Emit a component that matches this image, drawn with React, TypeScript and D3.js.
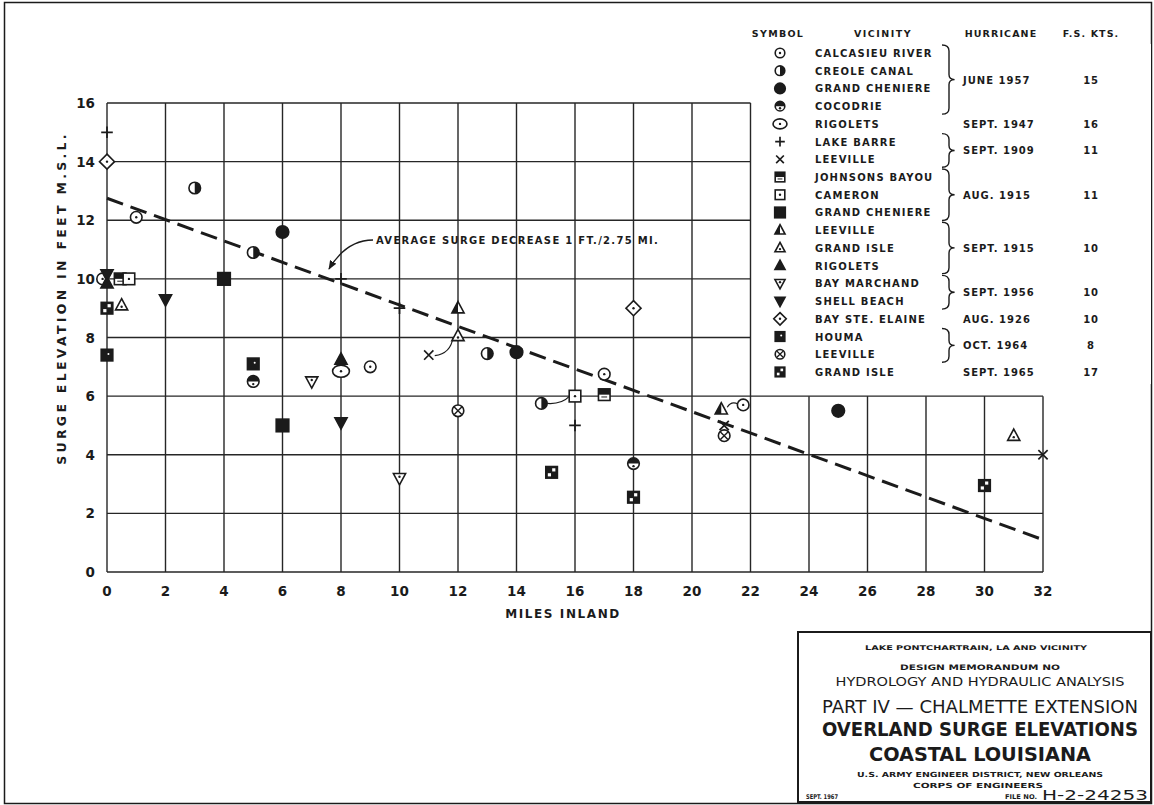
import React from "react";
import * as d3 from "d3";

const W = 1154;
const H = 805;
const FONT = "'DejaVu Sans', 'Liberation Sans', sans-serif";
const CONDENSED = "'DejaVu Sans Condensed', 'Liberation Sans Narrow', 'DejaVu Sans', sans-serif";
const INK = "#1b1b1b";

// axis ticks
const xTicks = d3.range(0, 33, 2);
const yTicks = d3.range(0, 17, 2);

// legend rows
const vicinities = [
  "CALCASIEU RIVER", "CREOLE CANAL", "GRAND CHENIERE", "COCODRIE", "RIGOLETS",
  "LAKE BARRE", "LEEVILLE", "JOHNSONS BAYOU", "CAMERON", "GRAND CHENIERE",
  "LEEVILLE", "GRAND ISLE", "RIGOLETS", "BAY MARCHAND", "SHELL BEACH",
  "BAY STE. ELAINE", "HOUMA", "LEEVILLE", "GRAND ISLE",
];
const symbolKinds = [
  "circleDot", "circleRightHalf", "circleFilled", "circleTopHalf", "ovalDot",
  "plus", "cross", "squareTopHalf", "squareDot", "squareFilled",
  "triangleHalf", "triangleDot", "triangleFilled", "triangleDownDot", "triangleDownFilled",
  "diamondDot", "squareFilledDot", "circleCross", "squareChecker",
];
const hurricanes = ["JUNE 1957", "SEPT. 1947", "SEPT. 1909", "AUG. 1915", "SEPT. 1915", "SEPT. 1956", "AUG. 1926", "OCT. 1964", "SEPT. 1965"];
const forwardSpeedKts = ["15", "16", "11", "11", "10", "10", "10", "8", "17"];
const groupRows = [[0, 3], [4, 4], [5, 6], [7, 9], [10, 12], [13, 14], [15, 15], [16, 17], [18, 18]];

// observed surge points [miles inland, feet msl]
const calcasieuRiver = [[-0.15, 10.0], [1, 12.1], [9, 7.0], [17, 6.75], [21.75, 5.7]];
const creoleCanal = [[3, 13.1], [5, 10.9], [13, 7.45], [14.85, 5.75]];
const grandCheniere57 = [[6, 11.6], [14, 7.5], [25, 5.5]];
const cocodrie = [[5, 6.5], [18, 3.7]];
const rigolets47 = [[8, 6.85]];
const lakeBarre = [[0, 15.0], [8, 10.0], [10, 9.0], [16, 5.0]];
const leeville09 = [[11, 7.4], [21.1, 5.0], [32, 4.0]];
const johnsonsBayou = [[0.45, 10.0], [17, 6.05]];
const cameron = [[0.75, 10.0], [16, 6.0]];
const grandCheniere15 = [[4, 10.0], [6, 5.0]];
const leeville15 = [[12, 9.0], [21, 5.55]];
const grandIsle15 = [[0.5, 9.1], [12, 8.05], [31, 4.65]];
const rigolets15 = [[0, 9.85], [8, 7.25]];
const bayMarchand = [[7, 6.5], [10, 3.2]];
const shellBeach = [[0, 10.15], [2, 9.3], [8, 5.1]];
const baySteElaine = [[0, 14.0], [18, 9.0]];
const houma = [[0, 7.4], [5, 7.1]];
const leeville64 = [[12, 5.5], [21.1, 4.65]];
const grandIsle65 = [[0, 9.0], [15.2, 3.4], [18, 2.55], [30, 2.95]];

const seriesPoints = [
  calcasieuRiver, creoleCanal, grandCheniere57, cocodrie, rigolets47,
  lakeBarre, leeville09, johnsonsBayou, cameron, grandCheniere15,
  leeville15, grandIsle15, rigolets15, bayMarchand, shellBeach,
  baySteElaine, houma, leeville64, grandIsle65,
];

// average surge decrease 1 ft / 2.75 mi
const trendLine = [[0, 12.75], [32, 1.1]];

const x = d3.scaleLinear().domain([0, 32]).range([107, 1043]);
const y = d3.scaleLinear().domain([0, 16]).range([572, 103]);

function Marker({ kind, cx, cy, r = 5.8 }: { kind: string; cx: number; cy: number; r?: number }) {
  const sw = 1.6;
  const open = { fill: "#fff", stroke: INK, strokeWidth: sw };
  const solid = { fill: INK, stroke: INK, strokeWidth: sw };
  const dot = (dx = 0, dy = 0) => <circle cx={dx} cy={dy} r={1.2} fill={INK} />;
  const tri = `M0,${-r * 1.15}L${r * 1.05},${r * 0.8}L${-r * 1.05},${r * 0.8}Z`;
  const triDown = `M0,${r * 1.15}L${r * 1.05},${-r * 0.8}L${-r * 1.05},${-r * 0.8}Z`;
  let body: React.ReactNode = null;
  switch (kind) {
    case "circleDot":
      body = <>{<circle r={r} {...open} />}{dot()}</>;
      break;
    case "circleRightHalf":
      body = <><circle r={r} {...open} /><path d={`M0,${-r}A${r},${r} 0 0 1 0,${r}Z`} fill={INK} /></>;
      break;
    case "circleFilled":
      body = <circle r={r + 0.5} {...solid} />;
      break;
    case "circleTopHalf":
      body = <><circle r={r} {...open} /><path d={`M${-r},0A${r},${r} 0 0 1 ${r},0Z`} fill={INK} />{dot(0, r * 0.45)}</>;
      break;
    case "ovalDot":
      body = <><ellipse rx={r * 1.45} ry={r * 1.05} {...open} />{dot()}</>;
      break;
    case "plus":
      body = <path d={`M${-r},0H${r}M0,${-r}V${r}`} stroke={INK} strokeWidth={1.7} />;
      break;
    case "cross":
      body = <path d={`M${-r * 0.8},${-r * 0.8}L${r * 0.8},${r * 0.8}M${r * 0.8},${-r * 0.8}L${-r * 0.8},${r * 0.8}`} stroke={INK} strokeWidth={1.7} />;
      break;
    case "squareTopHalf":
      body = <><rect x={-r} y={-r} width={2 * r} height={2 * r} {...open} /><rect x={-r} y={-r} width={2 * r} height={r} fill={INK} /><path d={`M${-r * 0.5},${r * 0.4}H${r * 0.5}`} stroke={INK} strokeWidth={1} /></>;
      break;
    case "squareDot":
      body = <><rect x={-r} y={-r} width={2 * r} height={2 * r} {...open} />{dot()}</>;
      break;
    case "squareFilled":
      body = <rect x={-r - 0.5} y={-r - 0.5} width={2 * r + 1} height={2 * r + 1} {...solid} />;
      break;
    case "triangleHalf":
      body = <><path d={tri} {...open} /><path d={`M0,${-r * 1.15}L${-r * 1.05},${r * 0.8}L0,${r * 0.8}Z`} fill={INK} /></>;
      break;
    case "triangleDot":
      body = <><path d={tri} {...open} />{dot(0, r * 0.25)}</>;
      break;
    case "triangleFilled":
      body = <path d={tri} {...solid} />;
      break;
    case "triangleDownDot":
      body = <><path d={triDown} {...open} />{dot(0, -r * 0.25)}</>;
      break;
    case "triangleDownFilled":
      body = <path d={triDown} {...solid} />;
      break;
    case "diamondDot":
      body = <><path d={`M0,${-r * 1.3}L${r * 1.3},0L0,${r * 1.3}L${-r * 1.3},0Z`} {...open} />{dot()}</>;
      break;
    case "squareFilledDot":
      body = <><rect x={-r} y={-r} width={2 * r} height={2 * r} {...solid} /><circle cx={r * 0.25} cy={-r * 0.2} r={1} fill="#fff" /></>;
      break;
    case "circleCross":
      body = <><circle r={r} {...open} /><path d={`M${-r * 0.65},${-r * 0.65}L${r * 0.65},${r * 0.65}M${r * 0.65},${-r * 0.65}L${-r * 0.65},${r * 0.65}`} stroke={INK} strokeWidth={1.4} /></>;
      break;
    case "squareChecker":
      body = <><rect x={-r} y={-r} width={2 * r} height={2 * r} {...solid} /><rect x={r * 0.1} y={-r * 0.7} width={r * 0.55} height={r * 0.55} fill="#fff" /><rect x={-r * 0.65} y={r * 0.15} width={r * 0.55} height={r * 0.55} fill="#fff" /></>;
      break;
  }
  return <g transform={`translate(${cx},${cy})`}>{body}</g>;
}

function bracePath(bx: number, y1: number, y2: number, w = 7) {
  const m = (y1 + y2) / 2;
  return `M${bx},${y1}Q${bx + w},${y1} ${bx + w},${y1 + 6}L${bx + w},${m - 5}Q${bx + w},${m} ${bx + w * 1.8},${m}` +
    `Q${bx + w},${m} ${bx + w},${m + 5}L${bx + w},${y2 - 6}Q${bx + w},${y2} ${bx},${y2}`;
}

export default function App() {
  const rowY = (i: number) => 53 + i * 17.72;
  const gridStroke = { stroke: "#262626", strokeWidth: 1.4 };
  const lbl = { fontFamily: FONT, fontWeight: 700, fill: INK } as const;
  const big = { fontFamily: CONDENSED, fontWeight: 700, fill: INK } as const;
  const line = d3.line<number[]>().x((d) => x(d[0])).y((d) => y(d[1]));
  const titleCx = 980;

  return (
    <div style={{ position: "absolute", left: 0, top: 0 }}>
      <svg width={W} height={H} style={{ display: "block", background: "#fff" }}>
        <defs>
          <marker id="arr" viewBox="0 0 10 10" refX="9" refY="5" markerWidth="7" markerHeight="7" orient="auto">
            <path d="M0,1 L10,5 L0,9 Z" fill={INK} />
          </marker>
        </defs>
        <rect x={4.5} y={2.5} width={W - 7} height={H - 4} fill="none" stroke={INK} strokeWidth={1.5} />

        {/* grid */}
        <g>
          {xTicks.map((t) => (
            <line key={"vx" + t} x1={x(t)} x2={x(t)} y1={y(0)} y2={t <= 22 ? y(16) : y(6)} {...gridStroke} />
          ))}
          {yTicks.map((t) => (
            <line key={"hy" + t} x1={x(0)} x2={t <= 6 ? x(32) : x(22)} y1={y(t)} y2={y(t)} {...gridStroke} />
          ))}
        </g>

        {/* tick labels */}
        {xTicks.map((t) => (
          <text key={"xt" + t} x={x(t)} y={596} textAnchor="middle" fontSize={13.5} {...lbl}>{t}</text>
        ))}
        {yTicks.map((t) => (
          <text key={"yt" + t} x={95} y={y(t) + 5} textAnchor="end" fontSize={13.5} {...lbl}>{t}</text>
        ))}
        <text x={563} y={618} textAnchor="middle" fontSize={12} letterSpacing={1.6} {...lbl}>MILES INLAND</text>
        <text transform="translate(66,298) rotate(-90)" textAnchor="middle" fontSize={12.5} letterSpacing={3.3} {...lbl}>
          SURGE ELEVATION IN FEET M.S.L.
        </text>

        {/* trend line */}
        <path d={line(trendLine) || ""} fill="none" stroke={INK} strokeWidth={3} strokeDasharray="17 8" />
        <text x={376} y={244} fontSize={10} letterSpacing={1.3} {...lbl}>AVERAGE SURGE DECREASE 1 FT./2.75 MI.</text>
        <path d="M373,240 C352,240 338,254 329,269" fill="none" stroke={INK} strokeWidth={1.3} markerEnd="url(#arr)" />

        {/* leaders */}
        <path d={`M${x(11) + 6},${y(7.38)} Q${x(11.75)},${y(7.45)} ${x(12) - 5},${y(8.0)}`} fill="none" stroke={INK} strokeWidth={1.2} />
        <path d={`M${x(14.85) + 6},${y(5.75)} Q${x(15.55)},${y(5.72)} ${x(16) - 6},${y(5.98)}`} fill="none" stroke={INK} strokeWidth={1.2} />
        <path d={`M${x(21) + 6},${y(5.62)} Q${x(21.35)},${y(5.85)} ${x(21.75) - 5},${y(5.72)}`} fill="none" stroke={INK} strokeWidth={1.2} />

        {/* points */}
        {seriesPoints.map((pts, s) =>
          pts.map((p, i) => <Marker key={s + "-" + i} kind={symbolKinds[s]} cx={x(p[0])} cy={y(p[1])} />)
        )}

        {/* legend */}
        <g>
          <rect x={756} y={44} width={395} height={340} fill="#fff" />
          <text x={778} y={37} textAnchor="middle" fontSize={9.5} letterSpacing={1.3} {...lbl}>SYMBOL</text>
          <text x={883} y={37} textAnchor="middle" fontSize={9.5} letterSpacing={1.5} {...lbl}>VICINITY</text>
          <text x={1001} y={37} textAnchor="middle" fontSize={9.5} letterSpacing={1.1} {...lbl}>HURRICANE</text>
          <text x={1091} y={37} textAnchor="middle" fontSize={9.5} letterSpacing={1.1} {...lbl}>F.S. KTS.</text>
          {vicinities.map((v, i) => (
            <g key={"lg" + i}>
              <Marker kind={symbolKinds[i]} cx={780} cy={rowY(i)} r={4.8} />
              <text x={815} y={rowY(i) + 4} fontSize={10} letterSpacing={1.2} {...lbl}>{v}</text>
            </g>
          ))}
          {groupRows.map((g, k) => {
            const m = (rowY(g[0]) + rowY(g[1])) / 2;
            return (
              <g key={"gr" + k}>
                {g[1] > g[0] && <path d={bracePath(942, rowY(g[0]) - 8, rowY(g[1]) + 8)} fill="none" stroke={INK} strokeWidth={1.4} />}
                <text x={963} y={m + 4} fontSize={10} letterSpacing={1} {...lbl}>{hurricanes[k]}</text>
                <text x={1091} y={m + 4} textAnchor="middle" fontSize={10} letterSpacing={0.8} {...lbl}>{forwardSpeedKts[k]}</text>
              </g>
            );
          })}
        </g>

        {/* title block */}
        <g>
          <rect x={798} y={632} width={W - 798 - 3} height={170} fill="#fff" stroke={INK} strokeWidth={2} />
          <text x={titleCx - 4} y={650} textAnchor="middle" fontSize={6.5} textLength={222} lengthAdjust="spacingAndGlyphs" {...lbl}>LAKE PONTCHARTRAIN, LA AND VICINITY</text>
          <text x={titleCx} y={670} textAnchor="middle" fontSize={7.5} textLength={160} lengthAdjust="spacingAndGlyphs" {...lbl}>DESIGN MEMORANDUM NO</text>
          <text x={titleCx} y={686} textAnchor="middle" fontSize={12} fontFamily={FONT} fill={INK} textLength={289} lengthAdjust="spacingAndGlyphs">HYDROLOGY AND HYDRAULIC ANALYSIS</text>
          <text x={titleCx} y={713} textAnchor="middle" fontSize={17} fontFamily={FONT} fill={INK} textLength={316} lengthAdjust="spacingAndGlyphs">PART IV — CHALMETTE EXTENSION</text>
          <text x={titleCx} y={736} textAnchor="middle" fontSize={20} textLength={316} lengthAdjust="spacingAndGlyphs" {...big}>OVERLAND SURGE ELEVATIONS</text>
          <text x={titleCx} y={761} textAnchor="middle" fontSize={20} textLength={222} lengthAdjust="spacingAndGlyphs" {...big}>COASTAL LOUISIANA</text>
          <text x={titleCx} y={777} textAnchor="middle" fontSize={7} textLength={246} lengthAdjust="spacingAndGlyphs" {...lbl}>U.S. ARMY ENGINEER DISTRICT, NEW ORLEANS</text>
          <text x={titleCx - 2} y={788} textAnchor="middle" fontSize={7} textLength={130} lengthAdjust="spacingAndGlyphs" {...lbl}>CORPS OF ENGINEERS</text>
          <text x={806} y={799} fontSize={6.5} textLength={32} lengthAdjust="spacingAndGlyphs" {...lbl}>SEPT. 1967</text>
          <text x={1005} y={799} fontSize={6.5} textLength={32} lengthAdjust="spacingAndGlyphs" {...lbl}>FILE NO.</text>
          <text x={1042} y={800} fontSize={14} fontFamily={FONT} fill={INK} textLength={106} lengthAdjust="spacingAndGlyphs">H-2-24253</text>
        </g>
      </svg>
    </div>
  );
}
